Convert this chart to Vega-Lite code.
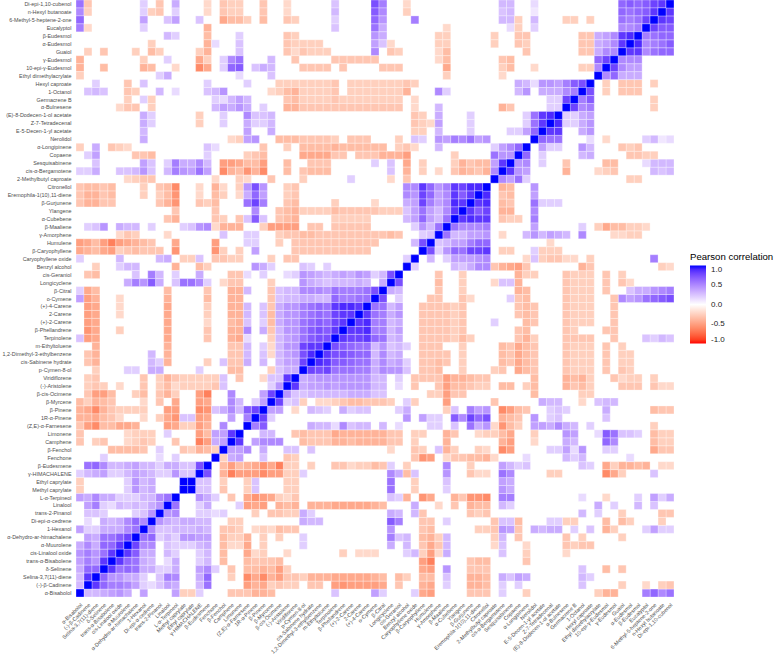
{"$schema":"https://vega.github.io/schema/vega-lite/v6.json","width":598,"height":597,"autosize":"none","padding":{"left":76,"top":0,"right":103,"bottom":58},"background":"white","config":{"view":{"stroke":null},"font":"Liberation Sans"},
"params":[{"name":"nm","value":["α-Bisabolol","(-)-β-Cadinene","Selina-3,7(11)-diene","δ-Selinene","trans-α-Bisabolene","cis-Linalool oxide","α-Muurolene","α-Dehydro-ar-himachalene","1-Hexanol","Di-epi-α-cedrene","trans-2-Pinanol","Linalool","L-α-Terpineol","Methyl caprylate","Ethyl caprylate","γ-HIMACHALENE","β-Eudesmene","Fenchone","β-Fenchol","Camphene","Limonene","(Z,E)-α-Farnesene","1R-α-Pinene","β-Pinene","β-Myrcene","β-cis-Ocimene","(-)-Aristolene","Viridiflorene","p-Cymen-8-ol","cis-Sabinene hydrate","1,2-Dimethyl-3-ethylbenzene","m-Ethyltoluene","Terpinolene","β-Phellandrene","(+)-2-Carene","2-Carene","(+)-4-Carene","o-Cymene","β-Citral","Longicyclene","cis-Geraniol","Benzyl alcohol","Caryophyllene oxide","β-Caryophyllene","Humulene","γ-Amorphene","β-Maaliene","α-Cubebene","Ylangene","β-Gurjunene","Eremophila-1(10),11-diene","Citronellol","2-Methylbutyl caproate","cis-α-Bergamotene","Sesquisabinene","Copaene","α-Longipinene","Nerolidol","E-5-Decen-1-yl acetate","Z-7-Tetradecenal","(E)-8-Dodecen-1-ol acetate","α-Bulnesene","Germacrene B","1-Octanol","Hexyl caproate","Ethyl dimethylacrylate","10-epi-γ-Eudesmol","γ-Eudesmol","Guaiol","α-Eudesmol","β-Eudesmol","Eucalyptol","6-Methyl-5-heptene-2-one","n-Hexyl butanoate","Di-epi-1,10-cubenol"]}],
"data":{"values":[
{"a":1,"b":75,"r":0.6},{"a":2,"b":75,"r":-0.3},{"a":9,"b":75,"r":0.2},{"a":11,"b":75,"r":-0.3},{"a":13,"b":75,"r":0.35},{"a":17,"b":75,"r":-0.2},{"a":19,"b":75,"r":-0.3},{"a":20,"b":75,"r":-0.25},{"a":21,"b":75,"r":-0.25},{"a":24,"b":75,"r":-0.3},{"a":27,"b":75,"r":-0.2},{"a":33,"b":75,"r":0.25},{"a":38,"b":75,"r":0.75},{"a":39,"b":75,"r":0.55},{"a":42,"b":75,"r":-0.2},{"a":54,"b":75,"r":0.3},{"a":55,"b":75,"r":0.3},{"a":58,"b":75,"r":0.15},{"a":69,"b":75,"r":0.65},{"a":70,"b":75,"r":0.7},{"a":71,"b":75,"r":0.65},{"a":72,"b":75,"r":0.7},{"a":73,"b":75,"r":0.8},{"a":74,"b":75,"r":0.85},{"a":75,"b":75,"r":1},
{"a":1,"b":74,"r":0.5},{"a":2,"b":74,"r":-0.25},{"a":9,"b":74,"r":0.2},{"a":10,"b":74,"r":-0.25},{"a":11,"b":74,"r":-0.3},{"a":13,"b":74,"r":0.2},{"a":17,"b":74,"r":-0.2},{"a":19,"b":74,"r":-0.3},{"a":20,"b":74,"r":-0.25},{"a":21,"b":74,"r":-0.25},{"a":24,"b":74,"r":-0.3},{"a":27,"b":74,"r":-0.2},{"a":33,"b":74,"r":0.3},{"a":38,"b":74,"r":0.7},{"a":39,"b":74,"r":0.5},{"a":42,"b":74,"r":-0.25},{"a":54,"b":74,"r":0.25},{"a":55,"b":74,"r":0.3},{"a":58,"b":74,"r":0.1},{"a":69,"b":74,"r":0.65},{"a":70,"b":74,"r":0.6},{"a":71,"b":74,"r":0.65},{"a":72,"b":74,"r":0.7},{"a":73,"b":74,"r":0.85},{"a":74,"b":74,"r":1},
{"a":1,"b":73,"r":0.65},{"a":9,"b":73,"r":0.4},{"a":12,"b":73,"r":0.25},{"a":13,"b":73,"r":0.4},{"a":16,"b":73,"r":0.25},{"a":19,"b":73,"r":-0.45},{"a":20,"b":73,"r":-0.35},{"a":21,"b":73,"r":-0.35},{"a":22,"b":73,"r":-0.25},{"a":24,"b":73,"r":-0.35},{"a":27,"b":73,"r":-0.3},{"a":28,"b":73,"r":-0.25},{"a":33,"b":73,"r":0.2},{"a":38,"b":73,"r":0.65},{"a":39,"b":73,"r":0.45},{"a":43,"b":73,"r":0.55},{"a":54,"b":73,"r":0.3},{"a":55,"b":73,"r":0.3},{"a":56,"b":73,"r":-0.25},{"a":58,"b":73,"r":0.3},{"a":62,"b":73,"r":-0.25},{"a":63,"b":73,"r":-0.25},{"a":65,"b":73,"r":-0.25},{"a":69,"b":73,"r":0.6},{"a":70,"b":73,"r":0.55},{"a":71,"b":73,"r":0.6},{"a":72,"b":73,"r":0.8},{"a":73,"b":73,"r":1},
{"a":1,"b":72,"r":0.55},{"a":2,"b":72,"r":-0.2},{"a":9,"b":72,"r":0.2},{"a":17,"b":72,"r":-0.4},{"a":33,"b":72,"r":0.25},{"a":38,"b":72,"r":0.6},{"a":39,"b":72,"r":0.35},{"a":47,"b":72,"r":-0.2},{"a":55,"b":72,"r":0.15},{"a":56,"b":72,"r":-0.25},{"a":58,"b":72,"r":0.2},{"a":69,"b":72,"r":0.5},{"a":70,"b":72,"r":0.5},{"a":71,"b":72,"r":0.55},{"a":72,"b":72,"r":1},
{"a":12,"b":71,"r":0.3},{"a":13,"b":71,"r":0.2},{"a":17,"b":71,"r":-0.35},{"a":21,"b":71,"r":0.2},{"a":27,"b":71,"r":-0.3},{"a":28,"b":71,"r":-0.25},{"a":38,"b":71,"r":0.45},{"a":39,"b":71,"r":0.35},{"a":46,"b":71,"r":-0.25},{"a":47,"b":71,"r":-0.25},{"a":53,"b":71,"r":-0.25},{"a":56,"b":71,"r":-0.3},{"a":57,"b":71,"r":-0.3},{"a":64,"b":71,"r":-0.3},{"a":65,"b":71,"r":-0.3},{"a":66,"b":71,"r":0.35},{"a":67,"b":71,"r":0.4},{"a":68,"b":71,"r":0.5},{"a":69,"b":71,"r":0.85},{"a":70,"b":71,"r":0.9},{"a":71,"b":71,"r":1},
{"a":10,"b":70,"r":-0.25},{"a":17,"b":70,"r":-0.4},{"a":18,"b":70,"r":0.15},{"a":21,"b":70,"r":0.25},{"a":27,"b":70,"r":-0.3},{"a":28,"b":70,"r":-0.25},{"a":29,"b":70,"r":-0.25},{"a":30,"b":70,"r":-0.25},{"a":31,"b":70,"r":-0.25},{"a":38,"b":70,"r":0.4},{"a":39,"b":70,"r":0.25},{"a":40,"b":70,"r":-0.2},{"a":46,"b":70,"r":-0.25},{"a":47,"b":70,"r":-0.25},{"a":53,"b":70,"r":-0.25},{"a":56,"b":70,"r":-0.3},{"a":57,"b":70,"r":-0.25},{"a":64,"b":70,"r":-0.3},{"a":65,"b":70,"r":-0.3},{"a":66,"b":70,"r":0.35},{"a":67,"b":70,"r":0.4},{"a":68,"b":70,"r":0.5},{"a":69,"b":70,"r":0.85},{"a":70,"b":70,"r":1},
{"a":2,"b":69,"r":-0.25},{"a":4,"b":69,"r":-0.3},{"a":8,"b":69,"r":-0.25},{"a":10,"b":69,"r":-0.35},{"a":11,"b":69,"r":-0.25},{"a":16,"b":69,"r":-0.25},{"a":17,"b":69,"r":-0.4},{"a":21,"b":69,"r":0.25},{"a":27,"b":69,"r":-0.3},{"a":28,"b":69,"r":-0.2},{"a":29,"b":69,"r":-0.3},{"a":30,"b":69,"r":-0.25},{"a":31,"b":69,"r":-0.25},{"a":32,"b":69,"r":-0.25},{"a":38,"b":69,"r":0.5},{"a":40,"b":69,"r":-0.3},{"a":41,"b":69,"r":-0.25},{"a":46,"b":69,"r":-0.2},{"a":47,"b":69,"r":-0.35},{"a":57,"b":69,"r":-0.3},{"a":64,"b":69,"r":-0.3},{"a":65,"b":69,"r":-0.3},{"a":66,"b":69,"r":0.35},{"a":67,"b":69,"r":0.5},{"a":68,"b":69,"r":0.5},{"a":69,"b":69,"r":1},
{"a":1,"b":68,"r":-0.4},{"a":9,"b":68,"r":-0.25},{"a":12,"b":68,"r":0.2},{"a":16,"b":68,"r":-0.45},{"a":17,"b":68,"r":-0.25},{"a":19,"b":68,"r":0.2},{"a":20,"b":68,"r":0.5},{"a":21,"b":68,"r":0.6},{"a":25,"b":68,"r":0.3},{"a":28,"b":68,"r":-0.3},{"a":33,"b":68,"r":-0.3},{"a":34,"b":68,"r":-0.3},{"a":35,"b":68,"r":-0.3},{"a":36,"b":68,"r":-0.3},{"a":37,"b":68,"r":-0.3},{"a":38,"b":68,"r":-0.3},{"a":46,"b":68,"r":-0.2},{"a":47,"b":68,"r":-0.35},{"a":54,"b":68,"r":-0.3},{"a":55,"b":68,"r":-0.35},{"a":66,"b":68,"r":0.65},{"a":67,"b":68,"r":0.8},{"a":68,"b":68,"r":1},
{"a":1,"b":67,"r":-0.4},{"a":4,"b":67,"r":-0.35},{"a":9,"b":67,"r":-0.4},{"a":10,"b":67,"r":-0.35},{"a":13,"b":67,"r":-0.2},{"a":16,"b":67,"r":-0.6},{"a":17,"b":67,"r":-0.45},{"a":19,"b":67,"r":0.2},{"a":20,"b":67,"r":0.65},{"a":21,"b":67,"r":0.7},{"a":23,"b":67,"r":0.25},{"a":24,"b":67,"r":0.35},{"a":25,"b":67,"r":0.3},{"a":29,"b":67,"r":-0.3},{"a":30,"b":67,"r":-0.3},{"a":31,"b":67,"r":-0.3},{"a":32,"b":67,"r":-0.3},{"a":34,"b":67,"r":-0.3},{"a":39,"b":67,"r":-0.3},{"a":40,"b":67,"r":-0.3},{"a":41,"b":67,"r":-0.3},{"a":47,"b":67,"r":-0.45},{"a":54,"b":67,"r":-0.25},{"a":55,"b":67,"r":-0.35},{"a":58,"b":67,"r":-0.2},{"a":64,"b":67,"r":-0.25},{"a":65,"b":67,"r":-0.25},{"a":66,"b":67,"r":0.5},{"a":67,"b":67,"r":1},
{"a":1,"b":66,"r":-0.25},{"a":11,"b":66,"r":0.2},{"a":12,"b":66,"r":0.35},{"a":21,"b":66,"r":0.15},{"a":25,"b":66,"r":0.25},{"a":47,"b":66,"r":-0.25},{"a":54,"b":66,"r":-0.2},{"a":66,"b":66,"r":1},
{"a":3,"b":65,"r":0.2},{"a":7,"b":65,"r":-0.3},{"a":9,"b":65,"r":0.25},{"a":17,"b":65,"r":0.2},{"a":22,"b":65,"r":0.2},{"a":26,"b":65,"r":-0.25},{"a":27,"b":65,"r":-0.25},{"a":28,"b":65,"r":-0.25},{"a":29,"b":65,"r":-0.25},{"a":30,"b":65,"r":-0.25},{"a":31,"b":65,"r":-0.25},{"a":32,"b":65,"r":-0.25},{"a":33,"b":65,"r":-0.3},{"a":35,"b":65,"r":-0.25},{"a":36,"b":65,"r":-0.25},{"a":37,"b":65,"r":-0.25},{"a":38,"b":65,"r":-0.25},{"a":39,"b":65,"r":-0.25},{"a":40,"b":65,"r":-0.25},{"a":41,"b":65,"r":-0.25},{"a":42,"b":65,"r":-0.3},{"a":43,"b":65,"r":-0.25},{"a":56,"b":65,"r":0.35},{"a":57,"b":65,"r":0.3},{"a":58,"b":65,"r":0.15},{"a":59,"b":65,"r":0.45},{"a":60,"b":65,"r":0.45},{"a":61,"b":65,"r":0.4},{"a":62,"b":65,"r":0.55},{"a":63,"b":65,"r":0.7},{"a":64,"b":65,"r":0.75},{"a":65,"b":65,"r":1},
{"a":2,"b":64,"r":0.25},{"a":3,"b":64,"r":0.3},{"a":4,"b":64,"r":0.25},{"a":7,"b":64,"r":-0.3},{"a":8,"b":64,"r":-0.25},{"a":11,"b":64,"r":0.3},{"a":13,"b":64,"r":0.15},{"a":17,"b":64,"r":0.25},{"a":18,"b":64,"r":0.3},{"a":19,"b":64,"r":0.45},{"a":25,"b":64,"r":-0.2},{"a":26,"b":64,"r":-0.25},{"a":27,"b":64,"r":-0.35},{"a":28,"b":64,"r":-0.4},{"a":29,"b":64,"r":-0.25},{"a":30,"b":64,"r":-0.25},{"a":31,"b":64,"r":-0.25},{"a":32,"b":64,"r":-0.25},{"a":33,"b":64,"r":-0.3},{"a":35,"b":64,"r":-0.25},{"a":36,"b":64,"r":-0.25},{"a":37,"b":64,"r":-0.25},{"a":38,"b":64,"r":-0.25},{"a":39,"b":64,"r":-0.25},{"a":40,"b":64,"r":-0.25},{"a":41,"b":64,"r":-0.25},{"a":42,"b":64,"r":-0.4},{"a":46,"b":64,"r":0.5},{"a":47,"b":64,"r":0.2},{"a":56,"b":64,"r":0.3},{"a":57,"b":64,"r":0.45},{"a":59,"b":64,"r":0.35},{"a":60,"b":64,"r":0.35},{"a":61,"b":64,"r":0.35},{"a":62,"b":64,"r":0.5},{"a":63,"b":64,"r":0.55},{"a":64,"b":64,"r":1},
{"a":7,"b":63,"r":-0.25},{"a":9,"b":63,"r":0.2},{"a":10,"b":63,"r":-0.25},{"a":18,"b":63,"r":0.2},{"a":19,"b":63,"r":0.15},{"a":20,"b":63,"r":0.3},{"a":21,"b":63,"r":0.4},{"a":22,"b":63,"r":0.3},{"a":27,"b":63,"r":-0.3},{"a":28,"b":63,"r":-0.35},{"a":29,"b":63,"r":-0.25},{"a":30,"b":63,"r":-0.25},{"a":31,"b":63,"r":-0.25},{"a":32,"b":63,"r":-0.25},{"a":33,"b":63,"r":-0.3},{"a":34,"b":63,"r":-0.25},{"a":35,"b":63,"r":-0.25},{"a":36,"b":63,"r":-0.25},{"a":37,"b":63,"r":-0.25},{"a":38,"b":63,"r":-0.25},{"a":39,"b":63,"r":-0.25},{"a":40,"b":63,"r":-0.25},{"a":41,"b":63,"r":-0.25},{"a":43,"b":63,"r":-0.2},{"a":60,"b":63,"r":0.2},{"a":61,"b":63,"r":0.2},{"a":62,"b":63,"r":0.8},{"a":63,"b":63,"r":1},
{"a":6,"b":62,"r":-0.2},{"a":7,"b":62,"r":-0.3},{"a":8,"b":62,"r":-0.3},{"a":10,"b":62,"r":-0.25},{"a":18,"b":62,"r":0.3},{"a":19,"b":62,"r":0.4},{"a":20,"b":62,"r":0.35},{"a":21,"b":62,"r":0.45},{"a":22,"b":62,"r":0.35},{"a":24,"b":62,"r":0.2},{"a":27,"b":62,"r":-0.4},{"a":28,"b":62,"r":-0.4},{"a":29,"b":62,"r":-0.3},{"a":30,"b":62,"r":-0.3},{"a":31,"b":62,"r":-0.3},{"a":32,"b":62,"r":-0.3},{"a":33,"b":62,"r":-0.3},{"a":34,"b":62,"r":-0.3},{"a":35,"b":62,"r":-0.3},{"a":36,"b":62,"r":-0.3},{"a":37,"b":62,"r":-0.3},{"a":38,"b":62,"r":-0.3},{"a":39,"b":62,"r":-0.3},{"a":40,"b":62,"r":-0.3},{"a":41,"b":62,"r":-0.3},{"a":43,"b":62,"r":-0.2},{"a":46,"b":62,"r":0.3},{"a":54,"b":62,"r":-0.4},{"a":55,"b":62,"r":-0.3},{"a":60,"b":62,"r":0.2},{"a":61,"b":62,"r":0.2},{"a":62,"b":62,"r":1},
{"a":9,"b":61,"r":0.35},{"a":10,"b":61,"r":0.2},{"a":16,"b":61,"r":-0.25},{"a":19,"b":61,"r":0.2},{"a":22,"b":61,"r":0.5},{"a":23,"b":61,"r":0.25},{"a":24,"b":61,"r":0.25},{"a":25,"b":61,"r":0.3},{"a":43,"b":61,"r":-0.3},{"a":44,"b":61,"r":-0.25},{"a":46,"b":61,"r":0.35},{"a":50,"b":61,"r":0.2},{"a":57,"b":61,"r":0.2},{"a":58,"b":61,"r":0.6},{"a":59,"b":61,"r":0.85},{"a":60,"b":61,"r":0.9},{"a":61,"b":61,"r":1},
{"a":9,"b":60,"r":0.35},{"a":10,"b":60,"r":0.2},{"a":16,"b":60,"r":-0.25},{"a":19,"b":60,"r":0.2},{"a":22,"b":60,"r":0.35},{"a":23,"b":60,"r":0.2},{"a":24,"b":60,"r":0.2},{"a":25,"b":60,"r":0.3},{"a":43,"b":60,"r":-0.3},{"a":44,"b":60,"r":-0.25},{"a":45,"b":60,"r":-0.2},{"a":46,"b":60,"r":0.4},{"a":50,"b":60,"r":0.2},{"a":57,"b":60,"r":0.2},{"a":58,"b":60,"r":0.6},{"a":59,"b":60,"r":0.85},{"a":60,"b":60,"r":1},
{"a":9,"b":59,"r":0.3},{"a":22,"b":59,"r":0.4},{"a":25,"b":59,"r":0.35},{"a":43,"b":59,"r":-0.25},{"a":44,"b":59,"r":-0.25},{"a":46,"b":59,"r":0.3},{"a":50,"b":59,"r":0.2},{"a":55,"b":59,"r":0.2},{"a":56,"b":59,"r":0.2},{"a":57,"b":59,"r":0.4},{"a":58,"b":59,"r":0.65},{"a":59,"b":59,"r":1},
{"a":9,"b":58,"r":0.35},{"a":20,"b":58,"r":-0.2},{"a":21,"b":58,"r":-0.25},{"a":22,"b":58,"r":0.4},{"a":23,"b":58,"r":0.45},{"a":26,"b":58,"r":-0.35},{"a":27,"b":58,"r":-0.35},{"a":28,"b":58,"r":-0.35},{"a":29,"b":58,"r":-0.3},{"a":30,"b":58,"r":-0.3},{"a":31,"b":58,"r":-0.3},{"a":32,"b":58,"r":-0.3},{"a":33,"b":58,"r":-0.25},{"a":35,"b":58,"r":-0.3},{"a":36,"b":58,"r":-0.3},{"a":37,"b":58,"r":-0.3},{"a":41,"b":58,"r":-0.25},{"a":43,"b":58,"r":0.25},{"a":44,"b":58,"r":0.2},{"a":46,"b":58,"r":0.45},{"a":47,"b":58,"r":0.4},{"a":48,"b":58,"r":0.55},{"a":49,"b":58,"r":0.5},{"a":50,"b":58,"r":0.6},{"a":51,"b":58,"r":0.4},{"a":52,"b":58,"r":0.45},{"a":58,"b":58,"r":1},
{"a":1,"b":57,"r":-0.25},{"a":3,"b":57,"r":0.35},{"a":5,"b":57,"r":-0.3},{"a":6,"b":57,"r":-0.25},{"a":7,"b":57,"r":-0.2},{"a":17,"b":57,"r":0.25},{"a":18,"b":57,"r":0.15},{"a":24,"b":57,"r":-0.3},{"a":27,"b":57,"r":-0.25},{"a":29,"b":57,"r":-0.35},{"a":30,"b":57,"r":-0.35},{"a":31,"b":57,"r":-0.35},{"a":32,"b":57,"r":-0.35},{"a":33,"b":57,"r":-0.4},{"a":34,"b":57,"r":-0.35},{"a":35,"b":57,"r":-0.35},{"a":36,"b":57,"r":-0.35},{"a":37,"b":57,"r":-0.35},{"a":38,"b":57,"r":-0.35},{"a":39,"b":57,"r":-0.35},{"a":41,"b":57,"r":-0.25},{"a":42,"b":57,"r":-0.3},{"a":43,"b":57,"r":-0.2},{"a":46,"b":57,"r":0.3},{"a":53,"b":57,"r":0.2},{"a":54,"b":57,"r":0.4},{"a":55,"b":57,"r":0.5},{"a":56,"b":57,"r":0.65},{"a":57,"b":57,"r":1},
{"a":2,"b":56,"r":0.2},{"a":3,"b":56,"r":0.4},{"a":8,"b":56,"r":-0.3},{"a":9,"b":56,"r":-0.3},{"a":10,"b":56,"r":-0.35},{"a":17,"b":56,"r":0.2},{"a":22,"b":56,"r":-0.25},{"a":23,"b":56,"r":-0.3},{"a":24,"b":56,"r":-0.35},{"a":29,"b":56,"r":-0.45},{"a":30,"b":56,"r":-0.45},{"a":31,"b":56,"r":-0.45},{"a":32,"b":56,"r":-0.45},{"a":33,"b":56,"r":-0.3},{"a":34,"b":56,"r":-0.3},{"a":36,"b":56,"r":-0.3},{"a":37,"b":56,"r":-0.3},{"a":38,"b":56,"r":-0.3},{"a":39,"b":56,"r":-0.4},{"a":40,"b":56,"r":-0.4},{"a":41,"b":56,"r":-0.4},{"a":42,"b":56,"r":-0.5},{"a":48,"b":56,"r":-0.25},{"a":53,"b":56,"r":0.6},{"a":54,"b":56,"r":0.45},{"a":55,"b":56,"r":0.45},{"a":56,"b":56,"r":1},
{"a":3,"b":55,"r":0.25},{"a":9,"b":55,"r":0.4},{"a":10,"b":55,"r":0.25},{"a":12,"b":55,"r":0.2},{"a":13,"b":55,"r":0.55},{"a":14,"b":55,"r":0.35},{"a":15,"b":55,"r":0.35},{"a":16,"b":55,"r":0.5},{"a":17,"b":55,"r":0.3},{"a":19,"b":55,"r":-0.5},{"a":20,"b":55,"r":-0.5},{"a":21,"b":55,"r":-0.45},{"a":22,"b":55,"r":-0.35},{"a":23,"b":55,"r":-0.35},{"a":24,"b":55,"r":-0.5},{"a":27,"b":55,"r":-0.35},{"a":30,"b":55,"r":-0.3},{"a":31,"b":55,"r":-0.3},{"a":32,"b":55,"r":-0.3},{"a":38,"b":55,"r":0.2},{"a":40,"b":55,"r":0.25},{"a":42,"b":55,"r":-0.45},{"a":44,"b":55,"r":-0.25},{"a":48,"b":55,"r":-0.25},{"a":49,"b":55,"r":-0.4},{"a":50,"b":55,"r":-0.3},{"a":51,"b":55,"r":-0.35},{"a":52,"b":55,"r":-0.35},{"a":53,"b":55,"r":0.4},{"a":54,"b":55,"r":0.85},{"a":55,"b":55,"r":1},
{"a":1,"b":54,"r":0.2},{"a":2,"b":54,"r":0.2},{"a":3,"b":54,"r":0.35},{"a":6,"b":54,"r":0.25},{"a":7,"b":54,"r":0.25},{"a":8,"b":54,"r":0.3},{"a":9,"b":54,"r":0.45},{"a":10,"b":54,"r":0.25},{"a":12,"b":54,"r":0.3},{"a":13,"b":54,"r":0.55},{"a":14,"b":54,"r":0.45},{"a":15,"b":54,"r":0.4},{"a":16,"b":54,"r":0.6},{"a":17,"b":54,"r":0.4},{"a":19,"b":54,"r":-0.6},{"a":20,"b":54,"r":-0.4},{"a":21,"b":54,"r":-0.35},{"a":22,"b":54,"r":-0.55},{"a":23,"b":54,"r":-0.4},{"a":24,"b":54,"r":-0.6},{"a":27,"b":54,"r":-0.35},{"a":29,"b":54,"r":-0.3},{"a":30,"b":54,"r":-0.35},{"a":31,"b":54,"r":-0.35},{"a":32,"b":54,"r":-0.35},{"a":40,"b":54,"r":0.25},{"a":42,"b":54,"r":-0.4},{"a":44,"b":54,"r":-0.25},{"a":46,"b":54,"r":-0.2},{"a":48,"b":54,"r":-0.3},{"a":49,"b":54,"r":-0.4},{"a":50,"b":54,"r":-0.35},{"a":51,"b":54,"r":-0.3},{"a":52,"b":54,"r":-0.4},{"a":53,"b":54,"r":0.5},{"a":54,"b":54,"r":1},
{"a":7,"b":53,"r":-0.2},{"a":8,"b":53,"r":-0.25},{"a":9,"b":53,"r":-0.3},{"a":10,"b":53,"r":-0.3},{"a":18,"b":53,"r":-0.2},{"a":21,"b":53,"r":-0.25},{"a":22,"b":53,"r":-0.2},{"a":25,"b":53,"r":-0.3},{"a":29,"b":53,"r":-0.25},{"a":35,"b":53,"r":0.2},{"a":40,"b":53,"r":-0.2},{"a":42,"b":53,"r":-0.3},{"a":53,"b":53,"r":1},
{"a":1,"b":52,"r":-0.3},{"a":2,"b":52,"r":-0.35},{"a":3,"b":52,"r":-0.35},{"a":4,"b":52,"r":-0.3},{"a":5,"b":52,"r":-0.35},{"a":9,"b":52,"r":-0.25},{"a":11,"b":52,"r":-0.3},{"a":12,"b":52,"r":-0.35},{"a":13,"b":52,"r":-0.6},{"a":16,"b":52,"r":-0.2},{"a":18,"b":52,"r":-0.4},{"a":19,"b":52,"r":-0.2},{"a":21,"b":52,"r":-0.25},{"a":22,"b":52,"r":0.45},{"a":23,"b":52,"r":0.75},{"a":24,"b":52,"r":0.45},{"a":27,"b":52,"r":-0.25},{"a":28,"b":52,"r":-0.3},{"a":42,"b":52,"r":0.5},{"a":43,"b":52,"r":0.5},{"a":44,"b":52,"r":0.85},{"a":45,"b":52,"r":0.65},{"a":46,"b":52,"r":0.45},{"a":47,"b":52,"r":0.55},{"a":48,"b":52,"r":0.85},{"a":49,"b":52,"r":0.8},{"a":50,"b":52,"r":0.9},{"a":51,"b":52,"r":0.9},{"a":52,"b":52,"r":1},
{"a":1,"b":51,"r":-0.3},{"a":2,"b":51,"r":-0.4},{"a":3,"b":51,"r":-0.4},{"a":4,"b":51,"r":-0.3},{"a":5,"b":51,"r":-0.35},{"a":9,"b":51,"r":-0.25},{"a":11,"b":51,"r":-0.25},{"a":12,"b":51,"r":-0.35},{"a":13,"b":51,"r":-0.55},{"a":16,"b":51,"r":-0.2},{"a":18,"b":51,"r":-0.35},{"a":19,"b":51,"r":-0.25},{"a":21,"b":51,"r":-0.2},{"a":22,"b":51,"r":0.35},{"a":23,"b":51,"r":0.65},{"a":24,"b":51,"r":0.4},{"a":27,"b":51,"r":-0.25},{"a":28,"b":51,"r":-0.3},{"a":42,"b":51,"r":0.5},{"a":43,"b":51,"r":0.45},{"a":44,"b":51,"r":0.8},{"a":45,"b":51,"r":0.65},{"a":46,"b":51,"r":0.4},{"a":47,"b":51,"r":0.5},{"a":48,"b":51,"r":0.85},{"a":49,"b":51,"r":0.7},{"a":50,"b":51,"r":0.85},{"a":51,"b":51,"r":1},
{"a":1,"b":50,"r":-0.3},{"a":2,"b":50,"r":-0.4},{"a":3,"b":50,"r":-0.4},{"a":4,"b":50,"r":-0.3},{"a":5,"b":50,"r":-0.3},{"a":11,"b":50,"r":-0.3},{"a":12,"b":50,"r":-0.4},{"a":13,"b":50,"r":-0.55},{"a":16,"b":50,"r":-0.3},{"a":17,"b":50,"r":-0.25},{"a":18,"b":50,"r":-0.35},{"a":22,"b":50,"r":0.6},{"a":23,"b":50,"r":0.8},{"a":24,"b":50,"r":0.55},{"a":27,"b":50,"r":-0.3},{"a":28,"b":50,"r":-0.35},{"a":33,"b":50,"r":-0.25},{"a":38,"b":50,"r":-0.2},{"a":42,"b":50,"r":0.35},{"a":43,"b":50,"r":0.4},{"a":44,"b":50,"r":0.8},{"a":45,"b":50,"r":0.55},{"a":46,"b":50,"r":0.4},{"a":47,"b":50,"r":0.5},{"a":48,"b":50,"r":0.9},{"a":49,"b":50,"r":0.85},{"a":50,"b":50,"r":1},
{"a":13,"b":49,"r":-0.3},{"a":18,"b":49,"r":-0.3},{"a":23,"b":49,"r":0.5},{"a":26,"b":49,"r":-0.3},{"a":27,"b":49,"r":-0.35},{"a":28,"b":49,"r":-0.4},{"a":29,"b":49,"r":-0.25},{"a":30,"b":49,"r":-0.25},{"a":31,"b":49,"r":-0.25},{"a":32,"b":49,"r":-0.25},{"a":33,"b":49,"r":-0.35},{"a":34,"b":49,"r":-0.3},{"a":35,"b":49,"r":-0.3},{"a":36,"b":49,"r":-0.3},{"a":37,"b":49,"r":-0.3},{"a":38,"b":49,"r":-0.3},{"a":39,"b":49,"r":-0.25},{"a":40,"b":49,"r":-0.25},{"a":41,"b":49,"r":-0.25},{"a":42,"b":49,"r":0.25},{"a":43,"b":49,"r":0.4},{"a":44,"b":49,"r":0.6},{"a":45,"b":49,"r":0.4},{"a":46,"b":49,"r":0.3},{"a":47,"b":49,"r":0.5},{"a":48,"b":49,"r":0.85},{"a":49,"b":49,"r":1},
{"a":12,"b":48,"r":-0.3},{"a":13,"b":48,"r":-0.4},{"a":18,"b":48,"r":-0.3},{"a":19,"b":48,"r":-0.25},{"a":21,"b":48,"r":-0.3},{"a":22,"b":48,"r":0.25},{"a":23,"b":48,"r":0.7},{"a":24,"b":48,"r":0.25},{"a":26,"b":48,"r":-0.3},{"a":27,"b":48,"r":-0.35},{"a":28,"b":48,"r":-0.4},{"a":33,"b":48,"r":-0.25},{"a":34,"b":48,"r":-0.25},{"a":35,"b":48,"r":-0.25},{"a":36,"b":48,"r":-0.25},{"a":37,"b":48,"r":-0.25},{"a":42,"b":48,"r":0.3},{"a":43,"b":48,"r":0.4},{"a":44,"b":48,"r":0.65},{"a":45,"b":48,"r":0.4},{"a":46,"b":48,"r":0.3},{"a":47,"b":48,"r":0.6},{"a":48,"b":48,"r":1},
{"a":2,"b":47,"r":0.2},{"a":3,"b":47,"r":0.25},{"a":4,"b":47,"r":0.45},{"a":6,"b":47,"r":0.35},{"a":7,"b":47,"r":0.3},{"a":8,"b":47,"r":0.3},{"a":10,"b":47,"r":0.2},{"a":14,"b":47,"r":0.2},{"a":15,"b":47,"r":0.25},{"a":16,"b":47,"r":0.45},{"a":17,"b":47,"r":0.5},{"a":18,"b":47,"r":-0.2},{"a":19,"b":47,"r":-0.4},{"a":20,"b":47,"r":-0.4},{"a":21,"b":47,"r":-0.4},{"a":24,"b":47,"r":-0.25},{"a":25,"b":47,"r":-0.5},{"a":26,"b":47,"r":-0.5},{"a":27,"b":47,"r":-0.5},{"a":28,"b":47,"r":-0.5},{"a":30,"b":47,"r":-0.3},{"a":31,"b":47,"r":-0.3},{"a":33,"b":47,"r":-0.3},{"a":34,"b":47,"r":-0.3},{"a":35,"b":47,"r":-0.3},{"a":36,"b":47,"r":-0.3},{"a":37,"b":47,"r":-0.3},{"a":43,"b":47,"r":0.2},{"a":44,"b":47,"r":0.45},{"a":45,"b":47,"r":0.3},{"a":46,"b":47,"r":0.6},{"a":47,"b":47,"r":1},
{"a":6,"b":46,"r":-0.2},{"a":7,"b":46,"r":-0.3},{"a":8,"b":46,"r":-0.25},{"a":12,"b":46,"r":-0.2},{"a":19,"b":46,"r":0.25},{"a":22,"b":46,"r":0.2},{"a":23,"b":46,"r":0.2},{"a":26,"b":46,"r":-0.25},{"a":27,"b":46,"r":-0.3},{"a":28,"b":46,"r":-0.3},{"a":29,"b":46,"r":-0.35},{"a":30,"b":46,"r":-0.35},{"a":31,"b":46,"r":-0.3},{"a":32,"b":46,"r":-0.3},{"a":33,"b":46,"r":-0.3},{"a":34,"b":46,"r":-0.3},{"a":35,"b":46,"r":-0.3},{"a":36,"b":46,"r":-0.3},{"a":37,"b":46,"r":-0.3},{"a":38,"b":46,"r":-0.3},{"a":39,"b":46,"r":-0.3},{"a":40,"b":46,"r":-0.35},{"a":41,"b":46,"r":-0.3},{"a":44,"b":46,"r":0.2},{"a":45,"b":46,"r":0.25},{"a":46,"b":46,"r":1},
{"a":1,"b":45,"r":-0.5},{"a":2,"b":45,"r":-0.45},{"a":3,"b":45,"r":-0.35},{"a":4,"b":45,"r":-0.5},{"a":5,"b":45,"r":-0.65},{"a":6,"b":45,"r":-0.5},{"a":7,"b":45,"r":-0.45},{"a":8,"b":45,"r":-0.4},{"a":9,"b":45,"r":-0.35},{"a":10,"b":45,"r":-0.3},{"a":13,"b":45,"r":-0.45},{"a":18,"b":45,"r":-0.5},{"a":22,"b":45,"r":0.2},{"a":23,"b":45,"r":0.2},{"a":26,"b":45,"r":-0.25},{"a":28,"b":45,"r":-0.3},{"a":29,"b":45,"r":-0.3},{"a":30,"b":45,"r":-0.3},{"a":31,"b":45,"r":-0.3},{"a":32,"b":45,"r":-0.3},{"a":33,"b":45,"r":-0.3},{"a":34,"b":45,"r":-0.3},{"a":35,"b":45,"r":-0.3},{"a":36,"b":45,"r":-0.3},{"a":37,"b":45,"r":-0.3},{"a":38,"b":45,"r":-0.3},{"a":43,"b":45,"r":0.3},{"a":44,"b":45,"r":0.75},{"a":45,"b":45,"r":1},
{"a":1,"b":44,"r":-0.45},{"a":2,"b":44,"r":-0.4},{"a":3,"b":44,"r":-0.35},{"a":4,"b":44,"r":-0.45},{"a":5,"b":44,"r":-0.5},{"a":6,"b":44,"r":-0.25},{"a":7,"b":44,"r":-0.3},{"a":8,"b":44,"r":-0.35},{"a":9,"b":44,"r":-0.3},{"a":10,"b":44,"r":-0.3},{"a":11,"b":44,"r":-0.3},{"a":13,"b":44,"r":-0.55},{"a":18,"b":44,"r":-0.55},{"a":19,"b":44,"r":-0.25},{"a":21,"b":44,"r":-0.25},{"a":23,"b":44,"r":0.4},{"a":28,"b":44,"r":-0.3},{"a":29,"b":44,"r":-0.3},{"a":30,"b":44,"r":-0.3},{"a":31,"b":44,"r":-0.3},{"a":32,"b":44,"r":-0.3},{"a":33,"b":44,"r":-0.3},{"a":34,"b":44,"r":-0.3},{"a":35,"b":44,"r":-0.3},{"a":36,"b":44,"r":-0.3},{"a":37,"b":44,"r":-0.3},{"a":44,"b":44,"r":1},
{"a":1,"b":43,"r":0.2},{"a":6,"b":43,"r":0.3},{"a":11,"b":43,"r":0.3},{"a":12,"b":43,"r":0.35},{"a":14,"b":43,"r":-0.25},{"a":15,"b":43,"r":-0.25},{"a":16,"b":43,"r":0.25},{"a":18,"b":43,"r":-0.3},{"a":19,"b":43,"r":-0.3},{"a":20,"b":43,"r":-0.25},{"a":21,"b":43,"r":-0.25},{"a":25,"b":43,"r":-0.25},{"a":27,"b":43,"r":-0.3},{"a":28,"b":43,"r":-0.3},{"a":42,"b":43,"r":0.2},{"a":43,"b":43,"r":1},
{"a":3,"b":42,"r":-0.25},{"a":6,"b":42,"r":0.2},{"a":7,"b":42,"r":0.3},{"a":8,"b":42,"r":0.3},{"a":13,"b":42,"r":-0.4},{"a":16,"b":42,"r":-0.35},{"a":17,"b":42,"r":-0.25},{"a":23,"b":42,"r":0.45},{"a":24,"b":42,"r":0.35},{"a":25,"b":42,"r":0.2},{"a":29,"b":42,"r":0.25},{"a":30,"b":42,"r":0.2},{"a":32,"b":42,"r":0.2},{"a":42,"b":42,"r":1},
{"a":2,"b":41,"r":-0.3},{"a":3,"b":41,"r":-0.35},{"a":8,"b":41,"r":0.25},{"a":10,"b":41,"r":0.55},{"a":11,"b":41,"r":0.3},{"a":13,"b":41,"r":0.2},{"a":16,"b":41,"r":0.35},{"a":20,"b":41,"r":-0.3},{"a":21,"b":41,"r":-0.3},{"a":22,"b":41,"r":0.15},{"a":24,"b":41,"r":0.2},{"a":27,"b":41,"r":0.15},{"a":28,"b":41,"r":0.2},{"a":29,"b":41,"r":0.45},{"a":30,"b":41,"r":0.4},{"a":31,"b":41,"r":0.35},{"a":32,"b":41,"r":0.3},{"a":33,"b":41,"r":0.35},{"a":34,"b":41,"r":0.4},{"a":35,"b":41,"r":0.35},{"a":36,"b":41,"r":0.45},{"a":37,"b":41,"r":0.4},{"a":38,"b":41,"r":0.2},{"a":39,"b":41,"r":0.3},{"a":40,"b":41,"r":0.75},{"a":41,"b":41,"r":1},
{"a":7,"b":40,"r":0.35},{"a":8,"b":40,"r":0.55},{"a":9,"b":40,"r":0.45},{"a":10,"b":40,"r":0.7},{"a":11,"b":40,"r":0.35},{"a":13,"b":40,"r":0.25},{"a":14,"b":40,"r":0.6},{"a":15,"b":40,"r":0.6},{"a":16,"b":40,"r":0.5},{"a":17,"b":40,"r":0.2},{"a":19,"b":40,"r":-0.2},{"a":20,"b":40,"r":-0.3},{"a":21,"b":40,"r":-0.3},{"a":25,"b":40,"r":-0.25},{"a":29,"b":40,"r":0.45},{"a":30,"b":40,"r":0.35},{"a":31,"b":40,"r":0.3},{"a":32,"b":40,"r":0.25},{"a":33,"b":40,"r":0.3},{"a":34,"b":40,"r":0.3},{"a":35,"b":40,"r":0.3},{"a":36,"b":40,"r":0.35},{"a":37,"b":40,"r":0.3},{"a":39,"b":40,"r":0.35},{"a":40,"b":40,"r":1},
{"a":1,"b":39,"r":0.2},{"a":2,"b":39,"r":-0.45},{"a":3,"b":39,"r":-0.35},{"a":12,"b":39,"r":-0.35},{"a":17,"b":39,"r":-0.3},{"a":20,"b":39,"r":-0.4},{"a":21,"b":39,"r":-0.4},{"a":22,"b":39,"r":0.3},{"a":25,"b":39,"r":-0.3},{"a":26,"b":39,"r":0.25},{"a":27,"b":39,"r":0.3},{"a":28,"b":39,"r":0.3},{"a":29,"b":39,"r":0.5},{"a":30,"b":39,"r":0.5},{"a":31,"b":39,"r":0.5},{"a":32,"b":39,"r":0.45},{"a":33,"b":39,"r":0.6},{"a":34,"b":39,"r":0.55},{"a":35,"b":39,"r":0.55},{"a":36,"b":39,"r":0.55},{"a":37,"b":39,"r":0.6},{"a":38,"b":39,"r":0.75},{"a":39,"b":39,"r":1},
{"a":1,"b":38,"r":0.4},{"a":2,"b":38,"r":-0.5},{"a":3,"b":38,"r":-0.4},{"a":6,"b":38,"r":-0.2},{"a":12,"b":38,"r":-0.4},{"a":17,"b":38,"r":-0.35},{"a":20,"b":38,"r":-0.4},{"a":21,"b":38,"r":-0.4},{"a":25,"b":38,"r":-0.3},{"a":26,"b":38,"r":0.25},{"a":27,"b":38,"r":0.3},{"a":28,"b":38,"r":0.3},{"a":29,"b":38,"r":0.35},{"a":30,"b":38,"r":0.35},{"a":31,"b":38,"r":0.3},{"a":32,"b":38,"r":0.3},{"a":33,"b":38,"r":0.65},{"a":34,"b":38,"r":0.55},{"a":35,"b":38,"r":0.55},{"a":36,"b":38,"r":0.6},{"a":37,"b":38,"r":0.6},{"a":38,"b":38,"r":1},
{"a":2,"b":37,"r":-0.5},{"a":3,"b":37,"r":-0.45},{"a":6,"b":37,"r":-0.2},{"a":12,"b":37,"r":-0.45},{"a":17,"b":37,"r":-0.25},{"a":20,"b":37,"r":-0.4},{"a":21,"b":37,"r":-0.4},{"a":22,"b":37,"r":0.3},{"a":24,"b":37,"r":0.25},{"a":25,"b":37,"r":-0.3},{"a":26,"b":37,"r":0.35},{"a":27,"b":37,"r":0.45},{"a":28,"b":37,"r":0.45},{"a":29,"b":37,"r":0.55},{"a":30,"b":37,"r":0.6},{"a":31,"b":37,"r":0.65},{"a":32,"b":37,"r":0.6},{"a":33,"b":37,"r":0.85},{"a":34,"b":37,"r":0.9},{"a":35,"b":37,"r":0.9},{"a":36,"b":37,"r":0.85},{"a":37,"b":37,"r":1},
{"a":2,"b":36,"r":-0.5},{"a":3,"b":36,"r":-0.45},{"a":6,"b":36,"r":-0.2},{"a":12,"b":36,"r":-0.45},{"a":17,"b":36,"r":-0.25},{"a":20,"b":36,"r":-0.4},{"a":21,"b":36,"r":-0.4},{"a":22,"b":36,"r":0.3},{"a":24,"b":36,"r":0.25},{"a":25,"b":36,"r":-0.35},{"a":26,"b":36,"r":0.35},{"a":27,"b":36,"r":0.45},{"a":28,"b":36,"r":0.45},{"a":29,"b":36,"r":0.55},{"a":30,"b":36,"r":0.6},{"a":31,"b":36,"r":0.65},{"a":32,"b":36,"r":0.6},{"a":33,"b":36,"r":0.8},{"a":34,"b":36,"r":0.85},{"a":35,"b":36,"r":0.85},{"a":36,"b":36,"r":1},
{"a":2,"b":35,"r":-0.5},{"a":3,"b":35,"r":-0.45},{"a":12,"b":35,"r":-0.45},{"a":17,"b":35,"r":-0.2},{"a":20,"b":35,"r":-0.35},{"a":21,"b":35,"r":-0.4},{"a":22,"b":35,"r":0.25},{"a":24,"b":35,"r":0.2},{"a":25,"b":35,"r":-0.35},{"a":26,"b":35,"r":0.35},{"a":27,"b":35,"r":0.45},{"a":28,"b":35,"r":0.45},{"a":29,"b":35,"r":0.6},{"a":30,"b":35,"r":0.65},{"a":31,"b":35,"r":0.7},{"a":32,"b":35,"r":0.65},{"a":33,"b":35,"r":0.8},{"a":34,"b":35,"r":0.85},{"a":35,"b":35,"r":1},
{"a":2,"b":34,"r":-0.55},{"a":3,"b":34,"r":-0.45},{"a":6,"b":34,"r":-0.25},{"a":12,"b":34,"r":-0.45},{"a":17,"b":34,"r":-0.3},{"a":20,"b":34,"r":-0.4},{"a":21,"b":34,"r":-0.4},{"a":22,"b":34,"r":0.5},{"a":24,"b":34,"r":0.35},{"a":25,"b":34,"r":-0.3},{"a":26,"b":34,"r":0.3},{"a":27,"b":34,"r":0.45},{"a":28,"b":34,"r":0.45},{"a":29,"b":34,"r":0.6},{"a":30,"b":34,"r":0.7},{"a":31,"b":34,"r":0.75},{"a":32,"b":34,"r":0.7},{"a":33,"b":34,"r":0.85},{"a":34,"b":34,"r":1},
{"a":1,"b":33,"r":0.25},{"a":2,"b":33,"r":-0.5},{"a":3,"b":33,"r":-0.45},{"a":12,"b":33,"r":-0.45},{"a":17,"b":33,"r":-0.3},{"a":20,"b":33,"r":-0.4},{"a":21,"b":33,"r":-0.45},{"a":22,"b":33,"r":0.15},{"a":25,"b":33,"r":-0.25},{"a":26,"b":33,"r":0.3},{"a":27,"b":33,"r":0.4},{"a":28,"b":33,"r":0.45},{"a":29,"b":33,"r":0.6},{"a":30,"b":33,"r":0.7},{"a":31,"b":33,"r":0.75},{"a":32,"b":33,"r":0.75},{"a":33,"b":33,"r":1},
{"a":3,"b":32,"r":-0.4},{"a":12,"b":32,"r":-0.4},{"a":20,"b":32,"r":-0.3},{"a":21,"b":32,"r":-0.3},{"a":22,"b":32,"r":0.3},{"a":24,"b":32,"r":0.2},{"a":25,"b":32,"r":-0.2},{"a":26,"b":32,"r":0.3},{"a":27,"b":32,"r":0.45},{"a":28,"b":32,"r":0.45},{"a":29,"b":32,"r":0.8},{"a":30,"b":32,"r":0.85},{"a":31,"b":32,"r":0.85},{"a":32,"b":32,"r":1},
{"a":2,"b":31,"r":-0.3},{"a":3,"b":31,"r":-0.4},{"a":10,"b":31,"r":0.3},{"a":12,"b":31,"r":-0.4},{"a":20,"b":31,"r":-0.3},{"a":21,"b":31,"r":-0.3},{"a":22,"b":31,"r":0.3},{"a":24,"b":31,"r":0.25},{"a":25,"b":31,"r":-0.2},{"a":26,"b":31,"r":0.3},{"a":27,"b":31,"r":0.4},{"a":28,"b":31,"r":0.45},{"a":29,"b":31,"r":0.75},{"a":30,"b":31,"r":0.9},{"a":31,"b":31,"r":1},
{"a":2,"b":30,"r":-0.3},{"a":3,"b":30,"r":-0.4},{"a":10,"b":30,"r":0.3},{"a":11,"b":30,"r":0.2},{"a":12,"b":30,"r":-0.4},{"a":17,"b":30,"r":-0.25},{"a":19,"b":30,"r":0.25},{"a":20,"b":30,"r":-0.3},{"a":21,"b":30,"r":-0.3},{"a":22,"b":30,"r":0.35},{"a":24,"b":30,"r":0.3},{"a":26,"b":30,"r":0.3},{"a":27,"b":30,"r":0.4},{"a":28,"b":30,"r":0.4},{"a":29,"b":30,"r":0.8},{"a":30,"b":30,"r":1},
{"a":3,"b":29,"r":-0.25},{"a":7,"b":29,"r":0.2},{"a":8,"b":29,"r":0.2},{"a":10,"b":29,"r":0.35},{"a":11,"b":29,"r":0.35},{"a":16,"b":29,"r":0.2},{"a":20,"b":29,"r":-0.35},{"a":21,"b":29,"r":-0.35},{"a":25,"b":29,"r":-0.25},{"a":26,"b":29,"r":0.25},{"a":27,"b":29,"r":0.35},{"a":28,"b":29,"r":0.35},{"a":29,"b":29,"r":1},
{"a":2,"b":28,"r":-0.25},{"a":3,"b":28,"r":-0.3},{"a":9,"b":28,"r":-0.3},{"a":11,"b":28,"r":-0.25},{"a":12,"b":28,"r":-0.4},{"a":13,"b":28,"r":-0.3},{"a":14,"b":28,"r":-0.25},{"a":15,"b":28,"r":-0.25},{"a":16,"b":28,"r":-0.25},{"a":17,"b":28,"r":-0.25},{"a":18,"b":28,"r":-0.25},{"a":19,"b":28,"r":0.25},{"a":21,"b":28,"r":-0.3},{"a":24,"b":28,"r":-0.2},{"a":25,"b":28,"r":0.25},{"a":26,"b":28,"r":0.25},{"a":27,"b":28,"r":0.85},{"a":28,"b":28,"r":1},
{"a":2,"b":27,"r":-0.25},{"a":3,"b":27,"r":-0.3},{"a":4,"b":27,"r":-0.25},{"a":6,"b":27,"r":-0.2},{"a":9,"b":27,"r":-0.3},{"a":11,"b":27,"r":-0.25},{"a":12,"b":27,"r":-0.35},{"a":13,"b":27,"r":-0.2},{"a":14,"b":27,"r":-0.25},{"a":15,"b":27,"r":-0.25},{"a":16,"b":27,"r":-0.25},{"a":17,"b":27,"r":-0.25},{"a":18,"b":27,"r":-0.3},{"a":19,"b":27,"r":0.25},{"a":25,"b":27,"r":0.2},{"a":26,"b":27,"r":0.45},{"a":27,"b":27,"r":1},
{"a":2,"b":26,"r":-0.3},{"a":3,"b":26,"r":-0.5},{"a":4,"b":26,"r":-0.5},{"a":5,"b":26,"r":-0.35},{"a":8,"b":26,"r":-0.25},{"a":9,"b":26,"r":-0.35},{"a":11,"b":26,"r":-0.3},{"a":12,"b":26,"r":-0.4},{"a":13,"b":26,"r":-0.25},{"a":16,"b":26,"r":-0.5},{"a":17,"b":26,"r":-0.65},{"a":20,"b":26,"r":0.5},{"a":24,"b":26,"r":0.4},{"a":25,"b":26,"r":0.8},{"a":26,"b":26,"r":1},
{"a":1,"b":25,"r":-0.35},{"a":2,"b":25,"r":-0.25},{"a":3,"b":25,"r":-0.4},{"a":4,"b":25,"r":-0.35},{"a":5,"b":25,"r":-0.3},{"a":9,"b":25,"r":-0.2},{"a":11,"b":25,"r":-0.3},{"a":13,"b":25,"r":-0.45},{"a":16,"b":25,"r":-0.5},{"a":17,"b":25,"r":-0.45},{"a":20,"b":25,"r":0.5},{"a":21,"b":25,"r":0.3},{"a":23,"b":25,"r":0.2},{"a":24,"b":25,"r":0.4},{"a":25,"b":25,"r":1},
{"a":1,"b":24,"r":-0.4},{"a":2,"b":24,"r":-0.45},{"a":3,"b":24,"r":-0.6},{"a":4,"b":24,"r":-0.4},{"a":5,"b":24,"r":-0.3},{"a":6,"b":24,"r":-0.25},{"a":7,"b":24,"r":-0.25},{"a":8,"b":24,"r":-0.25},{"a":9,"b":24,"r":-0.25},{"a":12,"b":24,"r":-0.5},{"a":13,"b":24,"r":-0.5},{"a":16,"b":24,"r":-0.6},{"a":17,"b":24,"r":-0.55},{"a":18,"b":24,"r":0.25},{"a":19,"b":24,"r":0.35},{"a":20,"b":24,"r":0.5},{"a":21,"b":24,"r":0.3},{"a":22,"b":24,"r":0.7},{"a":23,"b":24,"r":0.8},{"a":24,"b":24,"r":1},
{"a":1,"b":23,"r":-0.4},{"a":2,"b":23,"r":-0.4},{"a":3,"b":23,"r":-0.45},{"a":4,"b":23,"r":-0.35},{"a":5,"b":23,"r":-0.3},{"a":6,"b":23,"r":-0.2},{"a":9,"b":23,"r":-0.2},{"a":11,"b":23,"r":-0.25},{"a":12,"b":23,"r":-0.45},{"a":13,"b":23,"r":-0.55},{"a":14,"b":23,"r":0.25},{"a":15,"b":23,"r":0.25},{"a":16,"b":23,"r":-0.5},{"a":17,"b":23,"r":-0.45},{"a":20,"b":23,"r":0.4},{"a":22,"b":23,"r":0.55},{"a":23,"b":23,"r":1},
{"a":1,"b":22,"r":-0.3},{"a":2,"b":22,"r":-0.5},{"a":3,"b":22,"r":-0.6},{"a":4,"b":22,"r":-0.35},{"a":5,"b":22,"r":-0.35},{"a":6,"b":22,"r":-0.45},{"a":7,"b":22,"r":-0.45},{"a":8,"b":22,"r":-0.4},{"a":12,"b":22,"r":-0.5},{"a":13,"b":22,"r":-0.45},{"a":14,"b":22,"r":-0.25},{"a":15,"b":22,"r":-0.25},{"a":16,"b":22,"r":-0.5},{"a":17,"b":22,"r":-0.4},{"a":19,"b":22,"r":0.5},{"a":22,"b":22,"r":1},
{"a":1,"b":21,"r":-0.3},{"a":7,"b":21,"r":-0.2},{"a":8,"b":21,"r":-0.25},{"a":9,"b":21,"r":-0.25},{"a":10,"b":21,"r":-0.25},{"a":12,"b":21,"r":0.2},{"a":16,"b":21,"r":-0.5},{"a":17,"b":21,"r":-0.35},{"a":18,"b":21,"r":0.4},{"a":19,"b":21,"r":0.4},{"a":20,"b":21,"r":0.85},{"a":21,"b":21,"r":1},
{"a":1,"b":20,"r":-0.3},{"a":3,"b":20,"r":-0.25},{"a":4,"b":20,"r":-0.3},{"a":7,"b":20,"r":-0.2},{"a":8,"b":20,"r":-0.25},{"a":9,"b":20,"r":-0.3},{"a":10,"b":20,"r":-0.25},{"a":13,"b":20,"r":-0.3},{"a":16,"b":20,"r":-0.65},{"a":17,"b":20,"r":-0.5},{"a":18,"b":20,"r":0.35},{"a":19,"b":20,"r":0.4},{"a":20,"b":20,"r":1},
{"a":5,"b":19,"r":-0.35},{"a":6,"b":19,"r":-0.35},{"a":7,"b":19,"r":-0.35},{"a":8,"b":19,"r":-0.35},{"a":9,"b":19,"r":-0.3},{"a":11,"b":19,"r":0.2},{"a":14,"b":19,"r":-0.3},{"a":15,"b":19,"r":-0.25},{"a":16,"b":19,"r":-0.4},{"a":17,"b":19,"r":-0.35},{"a":18,"b":19,"r":-0.25},{"a":19,"b":19,"r":1},
{"a":4,"b":18,"r":0.2},{"a":11,"b":18,"r":0.15},{"a":13,"b":18,"r":0.2},{"a":18,"b":18,"r":1},
{"a":2,"b":17,"r":0.6},{"a":3,"b":17,"r":0.65},{"a":4,"b":17,"r":0.5},{"a":5,"b":17,"r":0.3},{"a":6,"b":17,"r":0.3},{"a":7,"b":17,"r":0.35},{"a":8,"b":17,"r":0.4},{"a":9,"b":17,"r":0.3},{"a":10,"b":17,"r":0.3},{"a":11,"b":17,"r":0.2},{"a":12,"b":17,"r":0.35},{"a":13,"b":17,"r":0.35},{"a":14,"b":17,"r":0.25},{"a":15,"b":17,"r":0.25},{"a":16,"b":17,"r":0.75},{"a":17,"b":17,"r":1},
{"a":1,"b":16,"r":0.2},{"a":2,"b":16,"r":0.3},{"a":3,"b":16,"r":0.35},{"a":4,"b":16,"r":0.4},{"a":5,"b":16,"r":0.2},{"a":6,"b":16,"r":0.2},{"a":7,"b":16,"r":0.3},{"a":8,"b":16,"r":0.4},{"a":9,"b":16,"r":0.35},{"a":10,"b":16,"r":0.3},{"a":11,"b":16,"r":0.2},{"a":12,"b":16,"r":0.2},{"a":13,"b":16,"r":0.45},{"a":14,"b":16,"r":0.25},{"a":15,"b":16,"r":0.25},{"a":16,"b":16,"r":1},
{"a":1,"b":15,"r":-0.25},{"a":7,"b":15,"r":0.2},{"a":8,"b":15,"r":0.45},{"a":9,"b":15,"r":0.3},{"a":10,"b":15,"r":0.35},{"a":14,"b":15,"r":1},{"a":15,"b":15,"r":1},
{"a":1,"b":14,"r":-0.25},{"a":7,"b":14,"r":0.2},{"a":8,"b":14,"r":0.45},{"a":9,"b":14,"r":0.3},{"a":10,"b":14,"r":0.35},{"a":14,"b":14,"r":1},
{"a":1,"b":13,"r":0.4},{"a":2,"b":13,"r":0.35},{"a":3,"b":13,"r":0.5},{"a":4,"b":13,"r":0.35},{"a":5,"b":13,"r":0.35},{"a":6,"b":13,"r":0.2},{"a":7,"b":13,"r":0.2},{"a":8,"b":13,"r":0.2},{"a":9,"b":13,"r":0.3},{"a":10,"b":13,"r":0.3},{"a":11,"b":13,"r":0.5},{"a":12,"b":13,"r":0.6},{"a":13,"b":13,"r":1},
{"a":2,"b":12,"r":0.4},{"a":3,"b":12,"r":0.55},{"a":4,"b":12,"r":0.2},{"a":5,"b":12,"r":0.15},{"a":6,"b":12,"r":0.3},{"a":7,"b":12,"r":0.25},{"a":8,"b":12,"r":0.3},{"a":9,"b":12,"r":0.25},{"a":10,"b":12,"r":0.35},{"a":11,"b":12,"r":0.45},{"a":12,"b":12,"r":1},
{"a":2,"b":11,"r":0.25},{"a":3,"b":11,"r":0.25},{"a":4,"b":11,"r":0.2},{"a":8,"b":11,"r":0.2},{"a":9,"b":11,"r":0.25},{"a":10,"b":11,"r":0.45},{"a":11,"b":11,"r":1},
{"a":2,"b":10,"r":0.15},{"a":4,"b":10,"r":0.35},{"a":5,"b":10,"r":0.3},{"a":6,"b":10,"r":0.35},{"a":7,"b":10,"r":0.5},{"a":8,"b":10,"r":0.65},{"a":9,"b":10,"r":0.5},{"a":10,"b":10,"r":1},
{"a":1,"b":9,"r":0.4},{"a":2,"b":9,"r":0.2},{"a":3,"b":9,"r":0.2},{"a":4,"b":9,"r":0.35},{"a":5,"b":9,"r":0.35},{"a":6,"b":9,"r":0.35},{"a":7,"b":9,"r":0.5},{"a":8,"b":9,"r":0.6},{"a":9,"b":9,"r":1},
{"a":2,"b":8,"r":0.4},{"a":3,"b":8,"r":0.35},{"a":4,"b":8,"r":0.6},{"a":5,"b":8,"r":0.6},{"a":6,"b":8,"r":0.7},{"a":7,"b":8,"r":0.8},{"a":8,"b":8,"r":1},
{"a":1,"b":7,"r":0.35},{"a":2,"b":7,"r":0.5},{"a":3,"b":7,"r":0.35},{"a":4,"b":7,"r":0.65},{"a":5,"b":7,"r":0.65},{"a":6,"b":7,"r":0.85},{"a":7,"b":7,"r":1},
{"a":1,"b":6,"r":0.45},{"a":2,"b":6,"r":0.55},{"a":3,"b":6,"r":0.45},{"a":4,"b":6,"r":0.6},{"a":5,"b":6,"r":0.85},{"a":6,"b":6,"r":1},
{"a":1,"b":5,"r":0.4},{"a":2,"b":5,"r":0.55},{"a":3,"b":5,"r":0.45},{"a":4,"b":5,"r":0.85},{"a":5,"b":5,"r":1},
{"a":1,"b":4,"r":0.35},{"a":2,"b":4,"r":0.65},{"a":3,"b":4,"r":0.65},{"a":4,"b":4,"r":1},
{"a":1,"b":3,"r":0.3},{"a":2,"b":3,"r":0.85},{"a":3,"b":3,"r":1},
{"a":1,"b":2,"r":0.3},{"a":2,"b":2,"r":1},
{"a":1,"b":1,"r":1}
]},
"layer":[
{"mark":{"type":"rect","stroke":"#ffffff","strokeWidth":0.3},"encoding":{
"x":{"field":"a","type":"ordinal","scale":{"domain":[1,2,3,4,5,6,7,8,9,10,11,12,13,14,15,16,17,18,19,20,21,22,23,24,25,26,27,28,29,30,31,32,33,34,35,36,37,38,39,40,41,42,43,44,45,46,47,48,49,50,51,52,53,54,55,56,57,58,59,60,61,62,63,64,65,66,67,68,69,70,71,72,73,74,75],"paddingInner":0,"paddingOuter":0},"title":null,"axis":{"domain":false,"ticks":false,"labelAngle":-45,"labelAlign":"right","labelBaseline":"top","labelFontSize":5.4,"labelColor":"#4d4d4d","labelPadding":5,"labelOverlap":false,"labelBound":false,"labelFlush":false,"grid":false,"labelLimit":200,"labelExpr":"nm[datum.value-1]"}},
"y":{"field":"b","type":"ordinal","scale":{"domain":[1,2,3,4,5,6,7,8,9,10,11,12,13,14,15,16,17,18,19,20,21,22,23,24,25,26,27,28,29,30,31,32,33,34,35,36,37,38,39,40,41,42,43,44,45,46,47,48,49,50,51,52,53,54,55,56,57,58,59,60,61,62,63,64,65,66,67,68,69,70,71,72,73,74,75],"reverse":true,"paddingInner":0,"paddingOuter":0},"title":null,"axis":{"domain":false,"ticks":false,"labelFontSize":5.4,"labelColor":"#4d4d4d","labelPadding":5,"labelOverlap":false,"labelBound":false,"labelFlush":false,"grid":false,"labelLimit":200,"labelExpr":"nm[datum.value-1]"}},
"color":{"field":"r","type":"quantitative","scale":{"domain":[-1,0,1],"range":["#ff0000","#ffffff","#0000ff"],"interpolate":"lab"},"legend":{"title":"Pearson correlation","orient":"none","legendX":614,"legendY":252,"direction":"vertical","gradientLength":78,"gradientThickness":16,"values":[1,0.5,0,-0.5,-1],"labelExpr":"datum.value<0?'-'+format(-datum.value,'.1f'):format(datum.value,'.1f')","labelFontSize":8,"labelOffset":5,"labelColor":"#222222","titleFontSize":9.6,"titleFontWeight":"normal","titleColor":"#000000","titlePadding":4,"titleLimit":200}}}},
{"mark":{"type":"rect","stroke":"#ffffff","strokeWidth":0.3},"encoding":{"x":{"field":"b","type":"ordinal"},"y":{"field":"a","type":"ordinal"},"color":{"field":"r","type":"quantitative"}}}
]}
